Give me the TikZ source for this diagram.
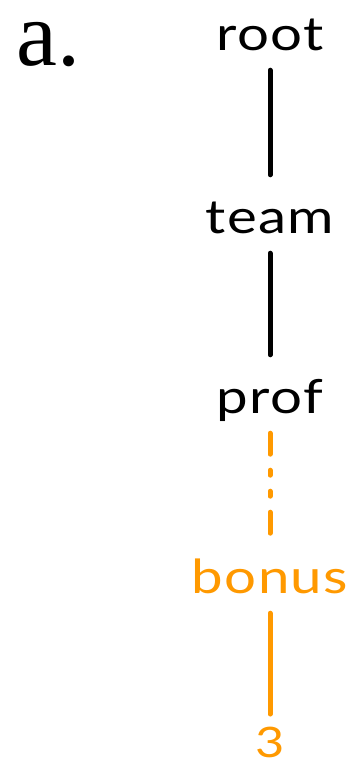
\documentclass[tikz,border=0pt]{standalone}
\usepackage{fontspec}
\usetikzlibrary{positioning}
\newfontfamily\treefont[FakeStretch=1.2, LetterSpace=3]{Lato}
\newfontfamily\tagfont{Liberation Serif}
\definecolor{hic}{RGB}{255,153,0}

\begin{document}
\begin{tikzpicture}[x=1pt, y=1pt, node distance=180pt, word/.style={inner sep=0pt, text height=58pt, text depth=20pt, font=\treefont\fontsize{47}{47}\selectfont}, edge/.style={line width=5pt, line cap=round}]

    \useasboundingbox (0,0) rectangle (350,-764);
    \node[anchor=base west, inner sep=0pt, font=\tagfont\fontsize{92}{92}\selectfont] (tag) at (16,-65) {a.};
    \node[word] (root) at (270,-31) {root};
    \node[word, below of=root, node distance=183pt] (team) {team};
    \node[word, below of=team] (prof) {prof};
    \node[word, color=hic, below of=prof] (bonus) {bonus};
    \node[word, color=hic, text height=43.5pt, text depth=4pt, font=\treefont\fontsize{42}{42}\selectfont, below of=bonus, node distance=164pt] (three) {3};

    \draw[edge] (root) -- (team);
    \draw[edge] (team) -- (prof);
    \draw[edge, color=hic, dash pattern=on 21pt off 16pt on 5pt off 16pt on 5pt off 16pt on 21pt off 50pt] (prof) -- (bonus);
    \draw[edge, color=hic] (bonus) -- (three);

  \end{tikzpicture}
\end{document}
